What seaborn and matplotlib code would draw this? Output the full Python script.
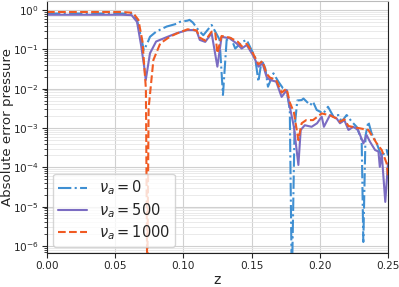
import numpy as np
import pandas as pd
import matplotlib
matplotlib.use("Agg")
import matplotlib.pyplot as plt
import seaborn as sns

# ---- data (z positions and log10 of absolute error) ----
z_nu0 = [0.0, 0.055, 0.062, 0.066, 0.069, 0.071, 0.0735, 0.0755, 0.080, 0.0877, 0.095,
         0.0975, 0.103, 0.1045, 0.107, 0.111, 0.1146, 0.1207, 0.124, 0.1265, 0.129, 0.1317,
         0.135, 0.138, 0.143, 0.1464, 0.150, 0.1525, 0.155, 0.1574, 0.160, 0.162, 0.166,
         0.1696, 0.173, 0.1757, 0.178, 0.1795, 0.1815, 0.1835, 0.1867, 0.188, 0.193, 0.195,
         0.1977, 0.2026, 0.206, 0.210, 0.2136, 0.216, 0.2197, 0.2234, 0.227, 0.2307, 0.2319,
         0.2335, 0.2356, 0.238, 0.2417, 0.2454, 0.249, 0.250]
log_nu0 = [-0.09, -0.09, -0.10, -0.25, -0.70, -1.02, -0.85, -0.68, -0.55, -0.42, -0.35,
           -0.30, -0.27, -0.25, -0.32, -0.51, -0.64, -0.38, -0.59, -0.75, -2.16, -0.76,
           -0.72, -0.98, -0.81, -0.76, -1.02, -1.19, -1.82, -1.27, -1.48, -1.95, -1.61,
           -1.82, -1.99, -2.04, -2.54, -7.0, -3.0, -2.30, -2.29, -2.25, -2.42, -2.33,
           -2.54, -2.63, -2.46, -2.71, -2.67, -2.84, -2.67, -2.84, -2.97, -3.31, -5.9,
           -3.2, -2.84, -3.14, -3.39, -3.73, -3.56, -3.70]

z_nu500 = [0.0, 0.055, 0.062, 0.066, 0.069, 0.0715, 0.0724, 0.0755, 0.080, 0.0877, 0.095,
           0.103, 0.107, 0.1097, 0.112, 0.116, 0.1207, 0.1249, 0.128, 0.134, 0.139, 0.1427,
           0.1464, 0.151, 0.155, 0.158, 0.161, 0.1635, 0.168, 0.172, 0.1757, 0.178, 0.181,
           0.1843, 0.186, 0.189, 0.194, 0.198, 0.2014, 0.203, 0.2075, 0.2124, 0.2148, 0.218,
           0.221, 0.2246, 0.228, 0.232, 0.2343, 0.2368, 0.2405, 0.243, 0.244, 0.2454, 0.248,
           0.250]
log_nu500 = [-0.12, -0.12, -0.13, -0.30, -0.90, -1.50, -1.78, -1.10, -0.80, -0.69, -0.59,
             -0.51, -0.51, -0.53, -0.76, -0.81, -0.59, -1.44, -0.68, -0.72, -0.85, -0.98,
             -0.89, -1.15, -1.44, -1.36, -1.70, -1.78, -1.82, -2.21, -2.04, -2.46, -2.97,
             -3.94, -3.05, -2.93, -2.97, -2.88, -2.71, -2.97, -2.67, -2.76, -2.88, -2.80,
             -3.05, -2.97, -3.05, -3.39, -3.18, -3.35, -3.56, -3.60, -3.99, -3.65, -4.88,
             -3.90]

z_nu1000 = [0.0, 0.055, 0.063, 0.067, 0.070, 0.0725, 0.0735, 0.0745, 0.078, 0.083, 0.090,
            0.095, 0.103, 0.107, 0.1097, 0.112, 0.116, 0.1207, 0.1233, 0.1249, 0.128, 0.134,
            0.140, 0.1427, 0.1464, 0.151, 0.155, 0.158, 0.161, 0.1635, 0.168, 0.172, 0.1757,
            0.178, 0.181, 0.1843, 0.1867, 0.190, 0.195, 0.2014, 0.2075, 0.2124, 0.2148, 0.218,
            0.221, 0.228, 0.2356, 0.2417, 0.2454, 0.249, 0.250]
log_nu1000 = [-0.05, -0.05, -0.07, -0.25, -0.80, -2.00, -7.0, -2.50, -1.27, -0.85, -0.68,
              -0.60, -0.49, -0.50, -0.52, -0.70, -0.78, -0.55, -0.56, -1.10, -0.66, -0.70,
              -0.81, -0.92, -0.86, -1.10, -1.38, -1.30, -1.62, -1.72, -1.78, -2.10, -2.00,
              -2.35, -2.60, -3.31, -2.88, -2.80, -2.80, -2.63, -2.68, -2.76, -2.84, -2.78,
              -2.95, -3.00, -3.05, -3.39, -3.56, -3.90, -4.20]

labels = [r"$\nu_a = 0$", r"$\nu_a = 500$", r"$\nu_a = 1000$"]
colors = ["#3f8fd2", "#7b6cc2", "#f05a22"]
styles = ["-.", "-", "--"]

sns.set_style("ticks")
plt.rcParams["font.family"] = ["DejaVu Sans"]

fig = plt.figure(figsize=(3.99, 2.87), dpi=100)
ax = fig.add_axes([47 / 399, 1 - 253 / 287, (388 - 47) / 399, (253 - 1) / 287])

series = [(z_nu0, log_nu0), (z_nu500, log_nu500), (z_nu1000, log_nu1000)]
for (zz, ll), lab, col, ls in zip(series, labels, colors, styles):
    df = pd.DataFrame({"z": zz, "err": np.power(10.0, ll)})
    sns.lineplot(data=df, x="z", y="err", ax=ax, color=col, linestyle=ls,
                 linewidth=1.5, label=lab, sort=False, estimator=None)

ax.set_yscale("log")
ax.set_xlim(0, 0.25)
ax.set_ylim(10 ** -6.18, 10 ** 0.23)
ax.set_xticks([0.0, 0.05, 0.10, 0.15, 0.20, 0.25])
ax.set_xticklabels(["0.00", "0.05", "0.10", "0.15", "0.20", "0.25"])
ax.tick_params(axis="both", which="major", labelsize=7.6, length=3.5, width=0.8, pad=2.5)
ax.tick_params(axis="y", which="minor", length=2, width=0.6)
ax.grid(which="major", color="#d0d0d0", linewidth=0.8)
ax.grid(which="minor", axis="y", color="#e6e6e6", linewidth=0.6)
ax.set_xlabel("z", fontsize=10, labelpad=1)
ax.set_ylabel("Absolute error pressure", fontsize=9.6)
ax.yaxis.set_label_coords(-0.096, 0.5)
for s in ax.spines.values():
    s.set_color("#222222")
    s.set_linewidth(0.8)
ax.spines["top"].set_color("#bbbbbb")

leg = ax.legend(loc="lower left", fontsize=10.5, frameon=True, handlelength=2.0,
                borderpad=0.35, labelspacing=0.25, borderaxespad=0.4)
leg.get_frame().set_edgecolor("#cccccc")

fig.savefig("out.png", dpi=100)
